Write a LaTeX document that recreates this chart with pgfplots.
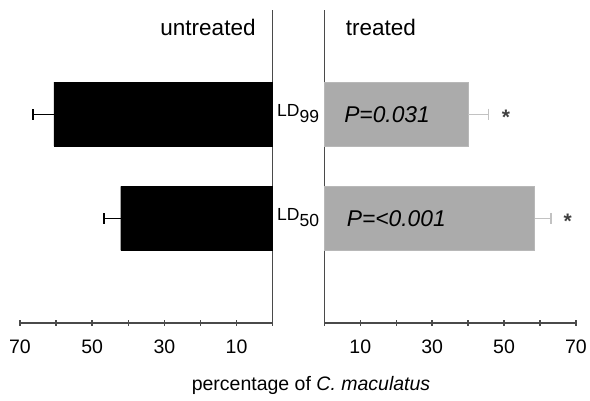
\documentclass[border=0pt]{standalone}
\usepackage{fontspec}
\setmainfont{Liberation Sans}
\usepackage{pgfplots}
\pgfplotsset{compat=1.18}

\definecolor{barg}{HTML}{ABABAB}
\definecolor{errg}{HTML}{C2C2C2}
\definecolor{axl}{HTML}{4A4A4A}

\pgfplotsset{
  halfpanel/.style={
    scale only axis, height=312.7pt,
    ymin=0, ymax=3, ytick=\empty,
    xmin=0, xmax=70,
    xtick={10,30,50,70}, minor xtick={0,20,40,60},
    tick align=center, major tick length=6pt, minor tick length=6pt,
    every tick/.style={axl, line width=1.4pt},
    axis line style={axl, line width=1.6pt},
    /pgf/number format/assume math mode=true,
    xticklabel style={font=\fontsize{19.5}{20}\selectfont, yshift=-11pt},
    xbar, bar width=64pt, bar shift=0pt,
    clip=false,
  },
}

\begin{document}
\begin{tikzpicture}
% untreated (left, reversed)
\begin{axis}[halfpanel, at={(20pt,77.3pt)}, anchor=south west, width=252.7pt,
  x dir=reverse, axis x line*=bottom, axis y line*=right]
\addplot[fill=black, draw=black,
  error bars/.cd, x dir=plus, x explicit,
  error bar style={black, line width=1.4pt},
  error mark options={black, line width=1.4pt, mark size=5.5pt, rotate=90}]
  coordinates {(60.6,2) +- (5.8,0) (42.1,1) +- (4.6,0)};
\node[anchor=base west, inner sep=0, xshift=4.3pt, yshift=-2pt,
  font=\fontsize{17.5}{18}\selectfont] at (axis cs:0,2) {LD\raisebox{-6.5pt}{99}};
\node[anchor=base west, inner sep=0, xshift=4.3pt, yshift=-2pt,
  font=\fontsize{17.5}{18}\selectfont] at (axis cs:0,1) {LD\raisebox{-6.5pt}{50}};
\node[anchor=base, inner sep=0, font=\fontsize{22.5}{23}\selectfont]
  at (axis description cs:0.744,0.92) {untreated};
\node[anchor=base, inner sep=0, font=\fontsize{19.5}{20}\selectfont]
  at (axis description cs:1.1516,-0.218) {percentage of \textit{C. maculatus}};
\end{axis}
% treated (right)
\begin{axis}[halfpanel, at={(324.3pt,77.3pt)}, anchor=south west, width=251.7pt,
  axis x line*=bottom, axis y line*=left]
\addplot[fill=barg, draw=barg!85!white,
  error bars/.cd, x dir=plus, x explicit,
  error bar style={errg, line width=1.4pt},
  error mark options={errg, line width=1.4pt, mark size=5.5pt, rotate=90}]
  coordinates {(40.0,2) +- (5.7,0) (58.5,1) +- (4.5,0)};
\node[anchor=west, inner sep=0, font=\fontsize{22.8}{23}\selectfont\itshape]
  at (axis cs:5.5,2) {P=0.031};
\node[anchor=west, inner sep=0, font=\fontsize{22.8}{23}\selectfont\itshape]
  at (axis cs:6.2,1) {P=<0.001};
\node[inner sep=0, text=black!75, font=\fontsize{21}{21}\selectfont\bfseries, yshift=-3pt]
  at (axis cs:50.5,2) {*};
\node[inner sep=0, text=black!75, font=\fontsize{21}{21}\selectfont\bfseries, yshift=-3pt]
  at (axis cs:67.7,1) {*};
\node[anchor=base, inner sep=0, font=\fontsize{22.5}{23}\selectfont]
  at (axis description cs:0.225,0.92) {treated};
\end{axis}
\pgfresetboundingbox
\path (0,0) rectangle (590pt,400pt);
\end{tikzpicture}
\end{document}
